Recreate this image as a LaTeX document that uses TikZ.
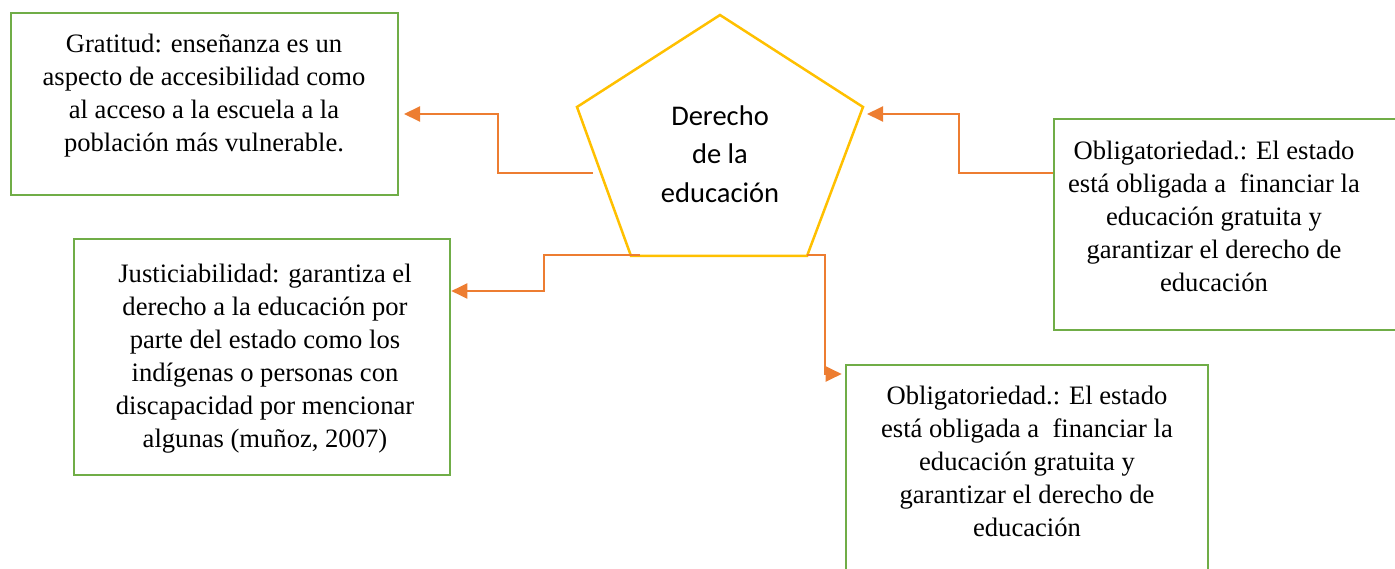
\documentclass[tikz,border=0pt]{standalone}
\usepackage{fontspec}
\setmainfont{Liberation Serif}
\newfontfamily\calib{Carlito}
\usetikzlibrary{arrows.meta}
\definecolor{boxgreen}{RGB}{112,173,71}
\definecolor{arrorange}{RGB}{237,125,49}
\definecolor{pentgold}{RGB}{255,192,0}
\tikzset{
  greenbox/.style={draw=boxgreen, line width=2.6pt, rectangle, inner sep=0pt},
  boxtext/.style={align=center, inner sep=0pt, font=\fontsize{26.6}{33}\selectfont},
  conn/.style={draw=arrorange, line width=2pt, -{Triangle[length=16pt,width=15pt]}},
}
\begin{document}
\begin{tikzpicture}[x=1pt,y=-1pt]
\useasboundingbox (0,0) rectangle (1395,569);
\begin{scope}
\clip (0,0) rectangle (1395,569);
% boxes
\node[greenbox, minimum width=387pt, minimum height=182pt] (b1) at (204.5,104) {};
\node[greenbox, minimum width=376pt, minimum height=236pt] (b2) at (262,357) {};
\node[greenbox, minimum width=360pt, minimum height=211pt] (b3) at (1234,224.5) {};
\node[greenbox, minimum width=362pt, minimum height=240pt] (b4) at (1027,485) {};
% pentagon
\coordinate (pT) at (720,15);
\coordinate (pL) at (577,107);
\coordinate (pR) at (863,107);
\coordinate (pBL) at (631,256);
\coordinate (pBR) at (807,256);
\draw[pentgold, line width=2.5pt, line join=miter] (pT) -- (pR) -- (pBR) -- (pBL) -- (pL) -- cycle;
\node[align=center, inner sep=0pt, font=\calib\fontsize{28.5}{38.5}\selectfont] (pent) at (720,154) {Derecho\\de la\\educación};
% texts
\node[boxtext] (t1) at (204,96) {Gratitud: enseñanza es un\\aspecto de accesibilidad como\\al acceso a la escuela a la\\población más vulnerable.};
\node[boxtext] (t2) at (265,358.5) {Justiciabilidad: garantiza el\\derecho a la educación por\\parte del estado como los\\indígenas o personas con\\discapacidad por mencionar\\algunas (muñoz, 2007)};
\node[boxtext] (t3) at (1214,216.5) {Obligatoriedad.: El estado\\está obligada a~\ financiar la\\educación gratuita y\\garantizar el derecho de\\educación};
\node[boxtext] (t4) at (1027,461) {Obligatoriedad.: El estado\\está obligada a~\ financiar la\\educación gratuita y\\garantizar el derecho de\\educación};
% connector endpoints
\coordinate (s1) at (593,173);
\coordinate (e1) at (404,114);
\coordinate (s2) at (640,255);
\coordinate (s3) at (b3.west |- 0,173);
\coordinate (e3) at (867,114);
\coordinate (s4) at (807,255);
% connectors
\draw[conn] (s1) -- (498,173) -- (498,114) -- (e1);
\draw[conn] (s2) -- (544,255) -- (544,291) -- (b2.east |- 0,291);
\draw[conn] (s3) -- (959,173) -- (959,114) -- (e3);
\draw[conn] (s4) -- (825,255) -- (825,374) -- ([xshift=-3pt]b4.west |- 0,374);
\end{scope}
\end{tikzpicture}
\end{document}
